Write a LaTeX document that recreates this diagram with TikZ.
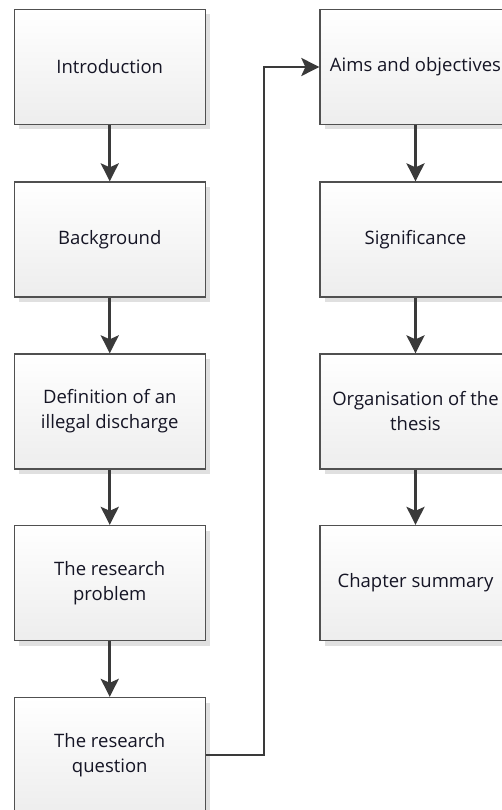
\documentclass[tikz,border=0pt]{standalone}
\usepackage{fontspec}
\setmainfont{Open Sans}
\usetikzlibrary{arrows.meta,shadows}
\definecolor{edgec}{HTML}{505050}
\definecolor{arrc}{HTML}{3a3a3a}
\definecolor{txtc}{HTML}{151525}
\begin{document}
\begin{tikzpicture}[x=1pt,y=-1pt,
 box/.style={draw=edgec, line width=1.3pt, top color=white, bottom color=black!7,
   minimum width=191pt, minimum height=115pt, inner sep=0pt, align=center,
   font=\fontsize{18.5}{25}\selectfont, text=txtc,
   drop shadow={shadow xshift=5pt, shadow yshift=-5pt, fill=black!12, opacity=1}},
 conn/.style={draw=arrc, line width=2.8pt, -{Stealth[length=18pt,width=18pt,inset=4pt]}}]
\useasboundingbox (0,0) rectangle (502,810);
\clip (0,0) rectangle (502,810);
\node[box] (a) at (109.75,67) {Introduction};
\node[box] (b) at (109.75,239.5) {Background};
\node[box] (c) at (109.75,411.5) {Definition of an\\illegal discharge};
\node[box] (d) at (109.75,583) {The research\\problem};
\node[box] (e) at (109.75,755) {The research\\question};
\node[box] (f) at (415.5,67) {Aims and objectives};
\node[box] (g) at (415.5,239.5) {Significance};
\node[box] (h) at (415.5,411.5) {Organisation of the\\thesis};
\node[box] (i) at (415.5,583) {Chapter summary};
\draw[conn] (a) -- (b);
\draw[conn] (b) -- (c);
\draw[conn] (c) -- (d);
\draw[conn] (d) -- (e);
\draw[conn] (f) -- (g);
\draw[conn] (g) -- (h);
\draw[conn] (h) -- (i);
\draw[conn] (e.east) -- ++(58,0) |- (f.west);
\end{tikzpicture}
\end{document}
